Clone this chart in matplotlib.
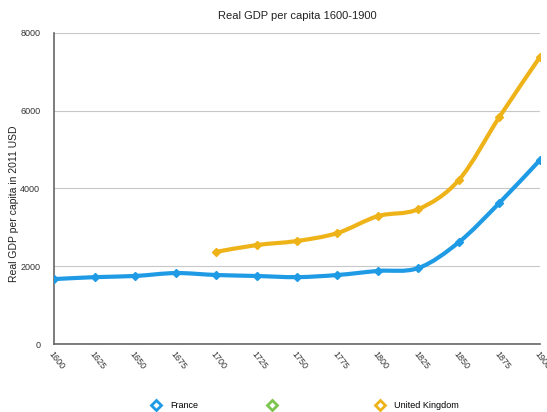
import numpy as np
import matplotlib
matplotlib.use("Agg")
import matplotlib.pyplot as plt
from matplotlib.path import Path
from matplotlib.patches import PathPatch
from matplotlib.lines import Line2D

plt.rcParams['font.family'] = ['Liberation Sans', 'DejaVu Sans']

years = [1600, 1625, 1650, 1675, 1700, 1725, 1750, 1775, 1800, 1825, 1850, 1875, 1900]
france = [1670, 1720, 1750, 1825, 1775, 1750, 1720, 1775, 1880, 1955, 2620, 3630, 4730]
uk_years = [1700, 1725, 1750, 1775, 1800, 1825, 1850, 1875, 1900]
uk = [2370, 2545, 2650, 2855, 3290, 3470, 4220, 5840, 7380]

blue = '#1f9be6'
gold = '#efb31a'
green = '#7cc54e'


def smooth_path(x, y):
    # catmull-rom through the points, as bezier segments
    x = np.asarray(x, float)
    y = np.asarray(y, float)
    verts = [(x[0], y[0])]
    codes = [Path.MOVETO]
    n = len(x)
    for i in range(n - 1):
        p0 = (x[max(i - 1, 0)], y[max(i - 1, 0)])
        p1 = (x[i], y[i])
        p2 = (x[i + 1], y[i + 1])
        p3 = (x[min(i + 2, n - 1)], y[min(i + 2, n - 1)])
        c1 = (p1[0] + (p2[0] - p0[0]) / 6, p1[1] + (p2[1] - p0[1]) / 6)
        c2 = (p2[0] - (p3[0] - p1[0]) / 6, p2[1] - (p3[1] - p1[1]) / 6)
        verts += [c1, c2, p2]
        codes += [Path.CURVE4] * 3
    return Path(verts, codes)


fig = plt.figure(figsize=(5.47, 4.12), dpi=100)
ax = fig.add_axes([0.099, 0.165, 0.888, 0.755])

for xs, ys, c in [(years, france, blue), (uk_years, uk, gold)]:
    ax.add_patch(PathPatch(smooth_path(xs, ys), fill=False, edgecolor=c,
                           lw=3, capstyle='round', joinstyle='round', zorder=3))
    ax.plot(xs, ys, linestyle='none', marker='D', ms=4, color=c, zorder=4)

ax.set_xlim(1600, 1900)
ax.set_ylim(0, 8000)
ax.set_xticks(years)
ax.set_xticklabels([str(y) for y in years], rotation=-52, ha='left',
                   rotation_mode='anchor', fontsize=6.5, color='#333333')
ax.set_yticks([0, 2000, 4000, 6000, 8000])
ax.tick_params(axis='y', labelsize=6.5, length=0, pad=10, labelcolor='#333333')
ax.tick_params(axis='x', length=0, pad=4)
ax.grid(axis='y', color='#c8c8c8', lw=0.8)
ax.set_axisbelow(True)
for s in ['top', 'right']:
    ax.spines[s].set_visible(False)
for s in ['left', 'bottom']:
    ax.spines[s].set_color('#666666')
    ax.spines[s].set_linewidth(1.2)

ax.set_title('Real GDP per capita 1600-1900', fontsize=8, color='#222222', pad=10)
ax.set_ylabel('Real GDP per capita in 2011 USD', fontsize=7.5, color='#222222')
ax.yaxis.set_label_coords(-0.072, 0.45)

handles = [
    Line2D([], [], linestyle='none', marker='D', ms=5, mfc='white', mec=blue, mew=2),
    Line2D([], [], linestyle='none', marker='D', ms=5, mfc='white', mec=green, mew=2),
    Line2D([], [], linestyle='none', marker='D', ms=5, mfc='white', mec=gold, mew=2),
]
fig.legend(handles, ['France', ' ' * 8, 'United Kingdom'], loc='lower left',
           bbox_to_anchor=(0.2545, -0.015), ncol=3, frameon=False, fontsize=6.5,
           columnspacing=7.25, handletextpad=0.5)

fig.savefig('out.png', dpi=100)
